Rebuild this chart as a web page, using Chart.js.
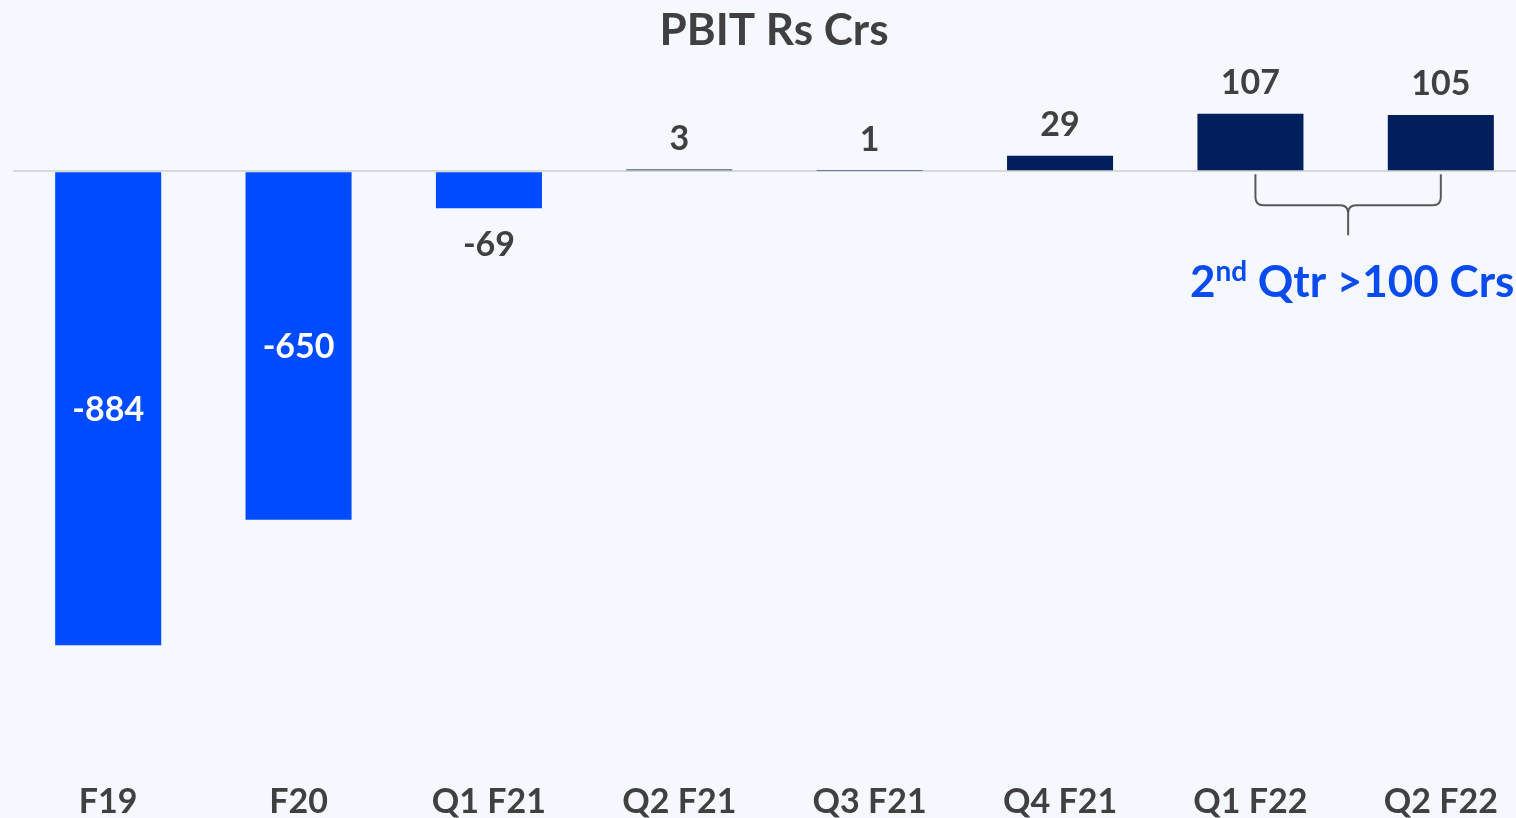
<!DOCTYPE html>
<html lang="en">
<head>
    <meta charset="UTF-8">
    <title>PBIT Rs Crs</title>
    <script src="https://cdn.jsdelivr.net/npm/chart.js"></script>
    <style>
        html, body { margin: 0; padding: 0; overflow: hidden; background: #f5f8fe; }
        canvas { display: block; }
    </style>
</head>
<body>
    <canvas id="pbitChart" width="1536" height="818"></canvas>
    <script>
        const categories = ['F19', 'F20', 'Q1 F21', 'Q2 F21', 'Q3 F21', 'Q4 F21', 'Q1 F22', 'Q2 F22'];
        const pbit = [-884, -650, -69, 3, 1, 29, 107, 105];
        const titleText = 'PBIT Rs Crs';

        const FONT = 'Lato, "DejaVu Sans", sans-serif';
        const TEXT = '#404040';
        const NEG = '#004bff';
        const POS = '#001f5c';

        // title, value labels and the bracket note
        const extras = {
            id: 'extras',
            afterDatasetsDraw(chart) {
                const ctx = chart.ctx;
                const meta = chart.getDatasetMeta(0);
                const x = chart.scales.x;
                const y = chart.scales.y;
                const zero = y.getPixelForValue(0);

                ctx.save();
                ctx.font = 'bold 44px ' + FONT;
                ctx.fillStyle = TEXT;
                ctx.textAlign = 'center';
                ctx.textBaseline = 'middle';
                ctx.fillText(titleText, 774, 31);

                ctx.font = 'bold 34px ' + FONT;
                meta.data.forEach((bar, i) => {
                    const v = pbit[i];
                    const h = Math.abs(bar.y - zero);
                    if (v >= 0) {
                        ctx.fillStyle = TEXT;
                        ctx.textBaseline = 'alphabetic';
                        ctx.fillText(String(v), bar.x, bar.y - 20);
                    } else if (h > 100) {
                        ctx.fillStyle = '#ffffff';
                        ctx.textBaseline = 'middle';
                        ctx.fillText(String(v), bar.x, (bar.y + zero) / 2 + 2);
                    } else {
                        ctx.fillStyle = TEXT;
                        ctx.textBaseline = 'middle';
                        ctx.fillText(String(v), bar.x, bar.y + 37);
                    }
                });

                // bracket under the two last quarters
                const x1 = x.getPixelForValue(6) + 5;
                const x2 = x.getPixelForValue(7);
                const xm = (x1 + x2) / 2;
                const y0 = zero + 3, yh = zero + 34, yt = zero + 64, r = 8;
                ctx.strokeStyle = '#595959';
                ctx.lineWidth = 2;
                ctx.beginPath();
                ctx.moveTo(x1, y0);
                ctx.lineTo(x1, yh - r);
                ctx.quadraticCurveTo(x1, yh, x1 + r, yh);
                ctx.lineTo(xm - r, yh);
                ctx.quadraticCurveTo(xm, yh, xm, yh + r);
                ctx.lineTo(xm, yt);
                ctx.moveTo(x2, y0);
                ctx.lineTo(x2, yh - r);
                ctx.quadraticCurveTo(x2, yh, x2 - r, yh);
                ctx.lineTo(xm + r, yh);
                ctx.quadraticCurveTo(xm, yh, xm, yh + r);
                ctx.stroke();

                // "2nd Qtr >100 Crs"
                const big = 'bold 44px ' + FONT;
                const small = 'bold 28px ' + FONT;
                ctx.fillStyle = '#0a4bf0';
                ctx.textAlign = 'left';
                ctx.textBaseline = 'alphabetic';
                ctx.font = big;
                const w1 = ctx.measureText('2').width;
                const w3 = ctx.measureText(' Qtr >100 Crs').width;
                ctx.font = small;
                const w2 = ctx.measureText('nd').width;
                let tx = xm + 4 - (w1 + w2 + w3) / 2;
                const ty = zero + 126;
                ctx.font = big;
                ctx.fillText('2', tx, ty);
                tx += w1;
                ctx.font = small;
                ctx.fillText('nd', tx, ty - 16);
                tx += w2;
                ctx.font = big;
                ctx.fillText(' Qtr >100 Crs', tx, ty);
                ctx.restore();
            }
        };

        new Chart(document.getElementById('pbitChart'), {
            type: 'bar',
            data: {
                labels: categories,
                datasets: [{
                    data: pbit,
                    backgroundColor: pbit.map(v => v < 0 ? NEG : POS),
                    barPercentage: 0.557,
                    categoryPercentage: 1.0
                }]
            },
            options: {
                responsive: false,
                animation: false,
                layout: { padding: { left: 13, top: 64, right: 0, bottom: 0 } },
                plugins: { legend: { display: false }, tooltip: { enabled: false } },
                scales: {
                    x: {
                        grid: { display: false },
                        border: { display: false },
                        ticks: {
                            color: TEXT,
                            font: { family: FONT, size: 34, weight: 'bold' },
                            padding: 13,
                            maxRotation: 0
                        },
                        afterFit(scale) { scale.height = 57; }
                    },
                    y: {
                        display: true,
                        min: -1100,
                        max: 200,
                        afterFit(scale) { scale.width = 0; },
                        ticks: { display: false },
                        border: { display: false },
                        grid: {
                            drawTicks: false,
                            lineWidth: 2,
                            color: c => c.tick.value === 0 ? '#d9d9d9' : 'rgba(0,0,0,0)'
                        }
                    }
                }
            },
            plugins: [extras]
        });
    </script>
</body>
</html>
